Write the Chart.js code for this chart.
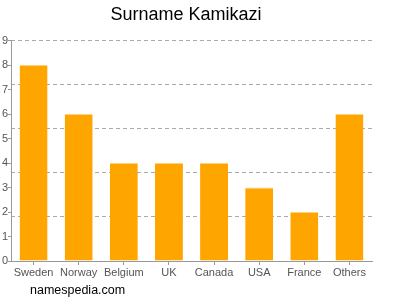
<!DOCTYPE html>
<html>
<head>
<meta charset="utf-8">
<script src="https://cdn.jsdelivr.net/npm/chart.js@4"></script>
<style>
  html, body { margin: 0; padding: 0; background: #fff; }
  #wrap { width: 400px; height: 300px; }
</style>
</head>
<body>
<div id="wrap"><canvas id="myChart" width="400" height="300"></canvas></div>
<script>
const countries = ["Sweden", "Norway", "Belgium", "UK", "Canada", "USA", "France", "Others"]
const counts = [8, 6, 4, 4, 4, 3, 2, 6]
const yTicks = [0, 1, 2, 3, 4, 5, 6, 7, 8, 9]

const font = "'Liberation Sans', Arial, sans-serif"

const watermark = {
  id: 'watermark',
  afterDraw(chart) {
    const c = chart.ctx
    c.save()
    c.font = "12.5px " + font
    c.fillStyle = "#000"
    c.textBaseline = "middle"
    c.fillText("namespedia.com", 30, 291)
    c.restore()
  }
}

const ctx = document.getElementById('myChart').getContext("2d")

const myChart = new Chart(ctx, {
  type: 'bar',
  data: {
    labels: countries,
    datasets: [{
      data: counts,
      backgroundColor: "#FFA500",
      borderColor: "#FFD080",
      borderWidth: { top: 1, left: 0, right: 0, bottom: 0 },
      borderSkipped: false,
      categoryPercentage: 1,
      barPercentage: 0.62
    }]
  },
  options: {
    responsive: false,
    animation: false,
    layout: {
      padding: { left: 0, right: 28, top: 0, bottom: 0 }
    },
    plugins: {
      legend: { display: false },
      tooltip: { enabled: false },
      title: {
        display: true,
        text: "Surname Kamikazi",
        color: "#000",
        font: { family: font, size: 18, weight: "normal" },
        padding: { top: 4, bottom: 15 }
      }
    },
    scales: {
      x: {
        grid: {
          offset: false,
          drawOnChartArea: false,
          drawTicks: true,
          tickLength: 4,
          color: "#999"
        },
        border: { color: "#999" },
        ticks: {
          color: "#555",
          padding: 1,
          autoSkip: false,
          font: { family: font, size: 11 },
          maxRotation: 0
        },
        afterFit(scale) { scale.height = 39 }
      },
      y: {
        min: 0,
        max: 9,
        afterBuildTicks(scale) {
          scale.ticks = yTicks.map(v => ({ value: v }))
        },
        grid: {
          drawOnChartArea: false,
          drawTicks: true,
          tickLength: 3,
          color: "#999"
        },
        border: { color: "#999" },
        ticks: {
          color: "#555",
          padding: 0,
          font: { family: font, size: 11 }
        },
        afterFit(scale) { scale.width = 11 }
      },
      y2: {
        position: 'left',
        min: 0,
        max: 9,
        ticks: { display: false, stepSize: 1.8 },
        grid: {
          color: "#aaa",
          drawTicks: false
        },
        border: { display: false, dash: [4, 3] },
        afterFit(scale) { scale.width = 0 }
      }
    }
  },
  plugins: [watermark]
});
</script>
</body>
</html>
